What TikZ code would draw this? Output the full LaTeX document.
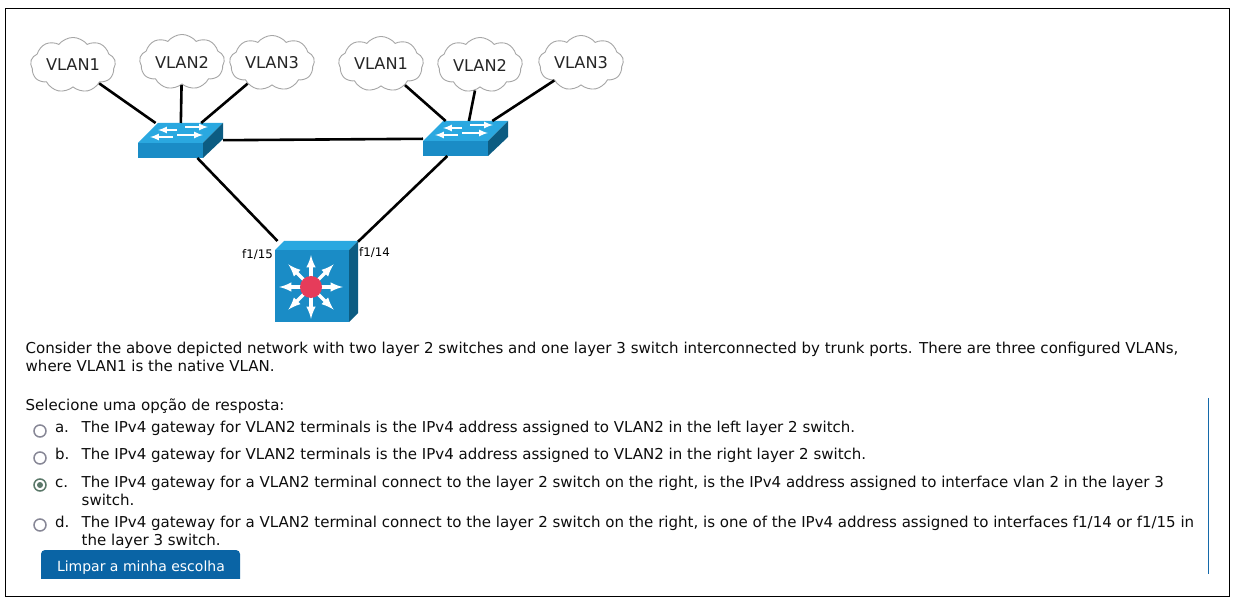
\documentclass[tikz,border=0pt]{standalone}
\usepackage{fontspec}
\setmainfont{DejaVu Sans}
\usepackage{tikz}
\usetikzlibrary{arrows}
\usetikzlibrary{shapes}
\definecolor{swfront}{RGB}{26,140,198}
\definecolor{swtop}{RGB}{42,168,224}
\definecolor{swside}{RGB}{12,92,130}
\definecolor{btnblue}{RGB}{10,100,165}
\definecolor{radiogray}{RGB}{135,135,150}
\definecolor{radiogreen}{RGB}{90,120,105}
\definecolor{hubred}{RGB}{230,60,90}
\definecolor{barblue}{RGB}{20,105,170}
\tikzset{
  vlan/.style={cloud, cloud puffs=9, cloud puff arc=105, aspect=1.7, draw=gray!70, fill=white, line width=0.9pt, inner sep=0pt, minimum width=85pt, minimum height=51pt, font=\fontsize{16.2}{18}\selectfont, text=black!85},
  link/.style={line width=2.6pt, black},
  txt/.style={anchor=base west, inner sep=0pt, outer sep=0pt, align=left, text=black!95, font=\fontsize{15.02}{18}\selectfont},
  port/.style={inner sep=0pt, anchor=base west, font=\fontsize{11.8}{13}\selectfont},
  radio/.style={circle, draw=radiogray, line width=1.5pt, fill=white, minimum size=12pt, inner sep=0pt},
}
\newcommand\lsw[3]{
  \fill[swfront, shift={(#2,#3)}] (0,0) -- (65,0) -- (65,15) -- (0,15) --cycle;
  \fill[swtop, shift={(#2,#3)}] (0,0) -- (20,-20) -- (85,-20) -- (65,0) --cycle;
  \fill[swside, shift={(#2,#3)}] (65,0) -- (85,-20) -- (85,-4) -- (65,15) --cycle;
  \draw[white, line width=2pt, -latex, shift={(#2,#3)}] (39,-13) -- (20,-13);
  \draw[white, line width=2pt, -latex, shift={(#2,#3)}] (47,-16) -- (70,-16);
  \draw[white, line width=2pt, -latex, shift={(#2,#3)}] (35,-6) -- (12,-6);
  \draw[white, line width=2pt, -latex, shift={(#2,#3)}] (39,-8) -- (65,-8);
  \node[minimum width=85pt, minimum height=35pt, inner sep=0pt, outer sep=0pt] (#1) at (#2+42.5,#3-2.5) {};
}
\begin{document}
\begin{tikzpicture}[x=1pt,y=-1pt]
\useasboundingbox (0,0) rectangle (1237,601);
\fill[white] (0,0) rectangle (1237,601);
\draw[black, line width=1pt] (5.5,8.5) rectangle (1229.5,596.5);
\draw[barblue, line width=1pt] (1208.5,398) -- (1208.5,574);

\node[vlan] (vlana1) at (73,65) {VLAN1};
\node[vlan] (vlana2) at (182,62) {VLAN2};
\node[vlan] (vlana3) at (272,63) {VLAN3};
\node[vlan] (vlanb1) at (381,64) {VLAN1};
\node[vlan] (vlanb2) at (480,65) {VLAN2};
\node[vlan] (vlanb3) at (581,63) {VLAN3};

\lsw{swleft}{138}{143};
\lsw{swright}{423}{141};

% layer 3 switch
\fill[swtop] (275,250) -- (284,241) -- (358,241) -- (349,250) --cycle;
\fill[swside] (349,250) -- (358,241) -- (358,313) -- (349,322) --cycle;
\fill[swfront] (275,250) rectangle (349,322);
\foreach \a in {0,45,...,315}
  \draw[white, line width=3.2pt, -latex, shift={(311,287)}] (0,0) -- (\a:32);
\node[circle, fill=hubred, minimum size=22pt, inner sep=0pt] (hub) at (311,287) {};
\node[minimum width=83pt, minimum height=81pt, inner sep=0pt, outer sep=0pt] (core) at (316.5,281.5) {};

\draw[link] (vlana1) -- (swleft);
\draw[link] (vlana2) -- (swleft);
\draw[link] (vlana3) -- (swleft);
\draw[link] (vlanb1) -- (swright);
\draw[link] (vlanb2) -- (swright);
\draw[link] (vlanb3) -- (swright);
\draw[link] (swleft) -- (swright);
\draw[link] (swleft) -- (core);
\draw[link] (swright) -- (core);

\node[port] (ptl) at (242,258.5) {f1/15};
\node[port] (ptr) at (359,256.5) {f1/14};

\node[txt] (intro) at (25.7,353.6) {Consider the above depicted network with two layer 2 switches and one layer 3 switch interconnected by trunk ports. There are three configured VLANs,};
\node[txt] (intro2) at (25.7,371.6) {where VLAN1 is the native VLAN.};
\node[txt] (prompt) at (25.7,410.6) {Selecione uma opção de resposta:};

\node[radio] (ra) at (40,431) {};
\node[radio] (rb) at (40,458) {};
\node[radio, draw=radiogreen] (rc) at (40,485) {};
\node[circle, fill=radiogreen, minimum size=6pt, inner sep=0pt] (rcdot) at (40,485) {};
\node[radio] (rd) at (40,525) {};

\node[txt] (la) at (55,432.6) {a.};
\node[txt] (lb) at (55,459.6) {b.};
\node[txt] (lc) at (55,487.6) {c.};
\node[txt] (ld) at (55,527.6) {d.};

\node[txt] (opta) at (81.7,432.6) {The IPv4 gateway for VLAN2 terminals is the IPv4 address assigned to VLAN2 in the left layer 2 switch.};
\node[txt] (optb) at (81.7,459.6) {The IPv4 gateway for VLAN2 terminals is the IPv4 address assigned to VLAN2 in the right layer 2 switch.};
\node[txt] (optc) at (81.7,487.6) {The IPv4 gateway for a VLAN2 terminal connect to the layer 2 switch on the right, is the IPv4 address assigned to interface vlan 2 in the layer 3};
\node[txt] (optc2) at (81.7,505.6) {switch.};
\node[txt] (optd) at (81.7,527.6) {The IPv4 gateway for a VLAN2 terminal connect to the layer 2 switch on the right, is one of the IPv4 address assigned to interfaces f1/14 or f1/15 in};
\node[txt] (optd2) at (81.7,545.6) {the layer 3 switch.};

\fill[btnblue, rounded corners=4pt] (41,590) -- (41,550) -- (240,550) -- (240,590) --cycle;
\fill[white] (38,579) rectangle (243,592);
\draw[black, line width=1pt] (5.5,596.5) -- (1229.5,596.5);
\node[txt, text=white, font=\fontsize{14}{17}\selectfont] (clear) at (57,571) {Limpar a minha escolha};
\end{tikzpicture}
\end{document}
